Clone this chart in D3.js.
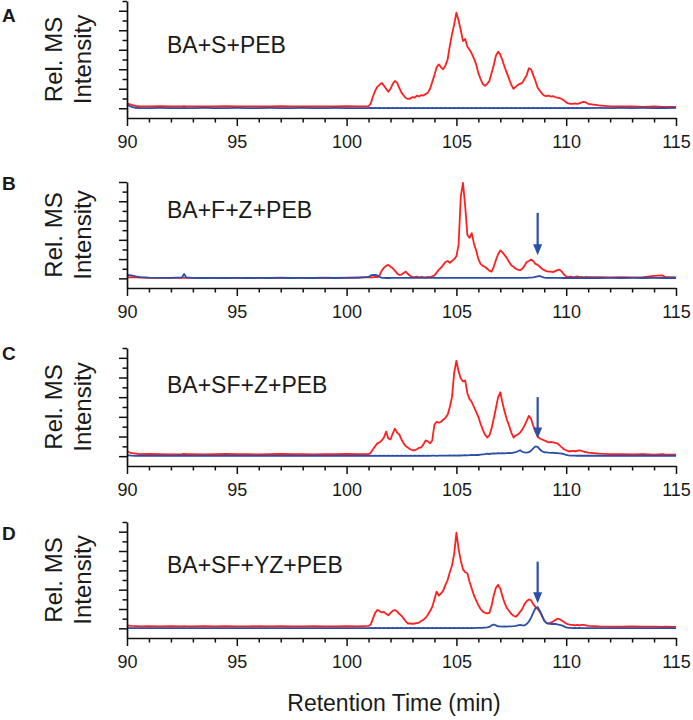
<!DOCTYPE html>
<html><head><meta charset="utf-8">
<script src="https://cdn.jsdelivr.net/npm/d3@7"></script>
<style>
body{margin:0;background:#fff}
svg{display:block}
text{font-family:"Liberation Sans",Arial,Helvetica,sans-serif;fill:#1a1a1a}
</style>
</head><body>
<svg id="chart" width="693" height="720"></svg>
<script>
// ---------- DATA ----------
const timesMin = [
  90, 90.2, 90.4, 90.6, 91, 91.5, 92, 92.5, 92.6, 92.7, 93, 93.5, 94, 94.5, 95, 95.5, 96, 96.5, 97, 97.5, 98, 98.5, 99, 99.5, 100, 100.5,
  101.0,101.1,101.2,101.3,101.4,101.5,101.6,101.7,101.8,101.9,
  102.0,102.1,102.2,102.3,102.4,102.5,102.6,102.7,102.8,102.9,
  103.0,103.1,103.2,103.3,103.4,103.5,103.6,103.7,103.8,103.9,
  104.0,104.1,104.2,104.3,104.4,104.5,104.6,104.7,104.8,104.9,
  105.0,105.1,105.2,105.3,105.4,105.5,105.6,105.7,105.8,105.9,
  106.0,106.1,106.2,106.3,106.4,106.5,106.6,106.7,106.8,106.9,
  107.0,107.1,107.2,107.3,107.4,107.5,107.6,107.7,107.8,107.9,
  108.0,108.1,108.2,108.3,108.4,108.5,108.6,108.7,108.8,108.9,
  109.0,109.1,109.2,109.3,109.4,109.5,109.6,109.7,109.8,109.9,
  110.0,110.1,110.2,110.3,110.4,110.5,110.6,110.7,110.8,110.9,
  111.0,
  111.5, 112, 112.5, 113, 113.5, 114, 114.4, 114.5, 115
];

const redA = [
  0.5,0.35,0.25,0.2,0.2,0.22,0.18,0.2,0.22,0.2,0.2,0.18,0.2,0.22,0.2,0.2,0.18,0.2,0.22,0.2,0.2,0.18,0.2,0.2,0.22,0.2,
  0.2,0.5,1.2,1.8,2.2,2.4,2.6,2.3,2.0,1.7,
  2.0,2.5,2.8,2.6,2.1,1.6,1.3,1.05,0.95,1.0,
  1.15,1.1,1.3,1.2,1.35,1.3,1.45,1.6,2.0,2.7,
  3.4,4.2,4.5,4.2,4.0,4.4,5.0,6.4,7.6,8.6,
  9.8,9.0,8.0,6.9,7.1,6.3,6.0,5.6,5.1,4.5,
  3.6,3.0,2.5,2.3,2.5,2.8,3.6,4.4,5.4,5.8,
  5.5,4.9,4.2,3.6,3.0,2.4,2.0,2.2,2.4,2.5,
  2.6,3.0,3.4,4.1,4.0,3.4,2.8,2.1,1.8,1.5,
  1.3,1.25,1.3,1.2,1.25,1.15,1.1,1.05,0.95,0.8,
  0.6,0.5,0.45,0.45,0.5,0.45,0.5,0.6,0.65,0.6,
  0.45,
  0.3,0.2,0.18,0.2,0.15,0.18,0.15,0.15,0.15
];
const blueA = [
  0.35,0.15,0.05,0.02,0.02,0.03,0.02,0.02,0.03,0.02,0.02,0.03,0.02,0.02,0.03,0.02,0.02,0.03,0.02,0.02,0.03,0.02,0.02,0.03,0.02,0.02,
  0.02,0.03,0.02,0.04,0.02,0.03,0.02,0.04,0.02,0.03,
  0.02,0.03,0.02,0.04,0.02,0.03,0.02,0.04,0.02,0.03,
  0.02,0.03,0.02,0.04,0.02,0.03,0.02,0.04,0.02,0.03,
  0.02,0.03,0.02,0.04,0.02,0.03,0.02,0.04,0.02,0.03,
  0.02,0.03,0.02,0.04,0.02,0.03,0.02,0.04,0.02,0.03,
  0.02,0.03,0.02,0.04,0.02,0.03,0.02,0.04,0.02,0.03,
  0.02,0.03,0.02,0.04,0.02,0.03,0.02,0.04,0.02,0.03,
  0.02,0.03,0.02,0.04,0.02,0.03,0.02,0.04,0.02,0.03,
  0.02,0.03,0.02,0.04,0.02,0.03,0.02,0.04,0.02,0.03,
  0.02,0.03,0.02,0.04,0.02,0.03,0.02,0.04,0.02,0.03,
  0.02,
  0.03,0.02,0.03,0.02,0.03,0.02,0.03,0.02,0.03
];

const redB = [
  0.1,0.12,0.1,0.08,0.05,0.06,0.05,0.06,0.05,0.06,0.05,0.06,0.05,0.06,0.05,0.06,0.05,0.06,0.08,0.06,0.05,0.06,0.08,0.06,0.08,0.1,
  0.1,0.12,0.1,0.15,0.12,0.3,0.8,1.1,1.3,1.4,
  1.2,1.05,0.8,0.5,0.35,0.4,0.55,0.7,0.45,0.25,
  0.15,0.12,0.18,0.1,0.15,0.12,0.1,0.15,0.12,0.2,
  0.3,0.6,0.9,1.1,1.4,1.7,1.8,1.6,1.8,2.0,
  2.3,3.5,8.5,9.9,7.5,4.5,4.2,4.7,3.6,2.9,
  2.0,1.5,1.3,1.2,1.0,0.8,0.7,1.2,1.9,2.5,
  2.9,2.7,2.4,2.1,1.7,1.35,1.2,1.0,0.9,0.85,
  1.0,1.3,1.7,1.8,1.95,1.8,1.5,1.4,1.2,1.0,
  0.85,0.75,0.7,0.7,0.65,0.75,0.85,0.9,0.7,0.4,
  0.2,0.15,0.18,0.12,0.15,0.2,0.12,0.15,0.1,0.15,
  0.12,
  0.12,0.1,0.12,0.1,0.12,0.25,0.3,0.15,0.1
];
const blueB = [
  0.35,0.3,0.2,0.12,0.08,0.06,0.05,0.1,0.45,0.1,0.05,0.04,0.05,0.04,0.05,0.04,0.05,0.04,0.05,0.04,0.05,0.04,0.05,0.04,0.05,0.06,
  0.15,0.3,0.35,0.35,0.3,0.15,0.06,0.05,0.04,0.05,
  0.04,0.06,0.04,0.06,0.04,0.06,0.04,0.06,0.04,0.06,
  0.04,0.06,0.04,0.06,0.04,0.06,0.04,0.06,0.04,0.06,
  0.04,0.06,0.04,0.06,0.04,0.06,0.04,0.06,0.04,0.06,
  0.04,0.06,0.04,0.06,0.04,0.06,0.04,0.06,0.04,0.06,
  0.04,0.06,0.04,0.06,0.04,0.06,0.04,0.06,0.04,0.06,
  0.04,0.06,0.04,0.06,0.04,0.06,0.04,0.06,0.04,0.06,
  0.05,0.06,0.05,0.07,0.08,0.1,0.15,0.2,0.25,0.15,
  0.08,0.06,0.05,0.06,0.04,0.06,0.04,0.06,0.04,0.05,
  0.04,0.05,0.04,0.05,0.04,0.05,0.04,0.05,0.04,0.05,
  0.04,
  0.04,0.05,0.04,0.05,0.04,0.05,0.04,0.05,0.04
];

const redC = [
  0.5,0.3,0.25,0.2,0.22,0.2,0.18,0.2,0.22,0.2,0.2,0.18,0.2,0.22,0.2,0.2,0.18,0.2,0.22,0.2,0.2,0.18,0.2,0.2,0.22,0.2,
  0.2,0.35,0.7,1.0,1.3,1.4,1.6,1.9,2.5,1.8,
  1.7,2.3,2.8,2.4,2.2,1.7,1.3,1.0,0.85,0.7,
  0.6,0.6,0.7,0.85,0.9,1.2,1.6,1.5,1.3,1.6,
  3.2,3.5,3.4,3.5,3.7,3.9,4.2,5.0,6.0,8.5,
  9.7,8.6,7.9,7.6,7.7,6.4,5.8,5.5,5.0,4.5,
  4.0,3.3,2.7,2.2,1.9,2.1,2.8,3.8,4.9,6.0,
  6.5,5.4,4.5,3.7,3.1,2.4,1.9,2.1,2.2,2.4,
  2.7,3.1,3.6,4.1,3.8,3.1,2.5,2.0,1.8,1.7,
  1.6,1.5,1.4,1.45,1.4,1.35,1.3,1.1,0.9,0.7,
  0.6,0.5,0.5,0.55,0.5,0.55,0.6,0.55,0.45,0.4,
  0.35,
  0.25,0.2,0.2,0.18,0.2,0.15,0.2,0.15,0.15
];
const blueC = [
  0.1,0.05,0.03,0.04,0.03,0.04,0.03,0.04,0.03,0.04,0.03,0.04,0.03,0.04,0.03,0.04,0.03,0.04,0.03,0.04,0.03,0.04,0.03,0.04,0.03,0.04,
  0.03,0.05,0.03,0.05,0.03,0.05,0.03,0.05,0.03,0.05,
  0.03,0.05,0.03,0.05,0.03,0.05,0.03,0.05,0.03,0.05,
  0.03,0.05,0.03,0.05,0.03,0.05,0.03,0.05,0.03,0.05,
  0.05,0.03,0.05,0.06,0.05,0.06,0.05,0.07,0.06,0.08,
  0.06,0.08,0.07,0.08,0.1,0.08,0.1,0.12,0.1,0.12,
  0.12,0.15,0.18,0.2,0.25,0.22,0.25,0.28,0.25,0.3,
  0.28,0.3,0.28,0.3,0.32,0.3,0.35,0.4,0.5,0.6,
  0.45,0.38,0.35,0.4,0.55,0.8,1.0,0.95,0.7,0.5,
  0.4,0.38,0.35,0.33,0.35,0.32,0.3,0.28,0.25,0.2,
  0.12,0.08,0.06,0.05,0.05,0.04,0.05,0.04,0.05,0.04,
  0.04,
  0.04,0.03,0.04,0.03,0.04,0.03,0.04,0.03,0.04
];

const redD = [
  0.3,0.25,0.22,0.2,0.22,0.2,0.22,0.2,0.22,0.2,0.2,0.22,0.2,0.22,0.2,0.2,0.22,0.2,0.22,0.2,0.2,0.22,0.2,0.2,0.22,0.2,
  0.25,0.4,1.0,1.6,1.9,1.8,1.65,1.7,1.5,1.35,
  1.6,1.8,1.9,1.75,1.5,1.3,1.0,0.7,0.5,0.5,
  0.45,0.5,0.55,0.6,0.75,0.9,1.1,1.4,1.8,2.2,
  3.0,3.8,3.4,3.6,3.9,4.5,5.0,5.8,6.5,7.7,
  9.9,8.2,7.0,6.1,5.8,5.7,4.8,4.1,3.4,2.9,
  2.4,2.0,1.75,1.6,1.55,1.6,2.3,3.4,4.2,4.5,
  4.1,3.3,2.6,2.1,1.8,1.5,1.3,1.2,1.4,1.7,
  2.0,2.5,2.8,3.0,2.9,2.5,2.2,2.0,1.7,1.3,
  0.8,0.55,0.5,0.6,0.7,0.85,1.0,0.95,0.8,0.65,
  0.5,0.4,0.35,0.35,0.3,0.35,0.3,0.35,0.35,0.3,
  0.25,
  0.2,0.18,0.17,0.2,0.17,0.18,0.15,0.17,0.15
];
const blueD = [
  0.04,0.03,0.02,0.03,0.02,0.03,0.02,0.03,0.02,0.03,0.02,0.03,0.02,0.03,0.02,0.03,0.02,0.03,0.02,0.03,0.02,0.03,0.02,0.03,0.02,0.03,
  0.02,0.04,0.02,0.04,0.02,0.04,0.02,0.04,0.02,0.04,
  0.02,0.04,0.02,0.04,0.02,0.04,0.02,0.04,0.02,0.04,
  0.02,0.04,0.02,0.04,0.02,0.04,0.02,0.04,0.02,0.04,
  0.02,0.04,0.02,0.04,0.02,0.04,0.02,0.04,0.02,0.04,
  0.03,0.04,0.03,0.04,0.03,0.04,0.03,0.04,0.03,0.04,
  0.04,0.05,0.06,0.08,0.1,0.15,0.3,0.4,0.3,0.2,
  0.2,0.18,0.2,0.18,0.2,0.2,0.22,0.25,0.3,0.35,
  0.3,0.3,0.45,0.7,1.1,1.6,2.1,2.2,1.8,1.3,
  0.8,0.55,0.5,0.45,0.45,0.45,0.4,0.35,0.3,0.2,
  0.1,0.05,0.04,0.03,0.04,0.03,0.04,0.03,0.03,0.03,
  0.03,
  0.03,0.02,0.03,0.02,0.03,0.02,0.03,0.02,0.03
];

const panelLetters = ["A", "B", "C", "D"];
const sampleLabels = ["BA+S+PEB", "BA+F+Z+PEB", "BA+SF+Z+PEB", "BA+SF+YZ+PEB"];
const redSeries = [redA, redB, redC, redD];
const blueSeries = [blueA, blueB, blueC, blueD];
const yMaxTicks = [11, 10, 11, 11];
const arrowTime = 108.7;                       // min
const arrowFromTo = [null, [6.8, 2.4], [6.0, 1.8], [6.9, 2.6]]; // intensity units
const xMajorTicks = [90, 95, 100, 105, 110, 115];
const xMinorTicks = [91,92,93,94,96,97,98,99,101,102,103,104,106,107,108,109,111,112,113,114];
const xTitle = "Retention Time (min)";
const yTitle = ["Rel. MS", "Intensity"];

// ---------- LAYOUT ----------
const RED = "#ff1f1f", BLUE = "#2b4ea6";
const layout = [
  {top: 1,   bottom: 118, letterY: 22,  labelY: 53},
  {top: 182, bottom: 288, letterY: 190, labelY: 218},
  {top: 348, bottom: 466, letterY: 360, labelY: 393},
  {top: 522, bottom: 638, letterY: 540, labelY: 573}
];
const svg = d3.select("#chart");
const x = d3.scaleLinear().domain([90, 115]).range([127, 676]);

panelLetters.forEach((letter, i) => {
  const L = layout[i];
  const y = d3.scaleLinear().domain([-1, yMaxTicks[i]]).range([L.bottom, L.top]);
  const g = svg.append("g");

  const pts = s => timesMin.map((t, k) => [t, s[k]]);
  const line = d3.line().x(d => x(d[0])).y(d => y(d[1]));
  g.append("path").datum(pts(redSeries[i])).attr("d", line)
    .attr("fill", "none").attr("stroke", RED).attr("stroke-width", 1.8).attr("stroke-linejoin", "round");
  g.append("path").datum(pts(blueSeries[i])).attr("d", line)
    .attr("fill", "none").attr("stroke", BLUE).attr("stroke-width", 1.8).attr("stroke-linejoin", "round");

  const yEven = d3.range(0, yMaxTicks[i] + 1).filter(v => v % 2 === 0);
  const yOdd = d3.range(0, yMaxTicks[i] + 1).filter(v => v % 2 === 1);
  g.append("g").attr("transform", `translate(${x(90)},0)`)
    .call(d3.axisLeft(y).tickValues(yEven).tickSize(8).tickSizeOuter(0).tickFormat(""));
  const yMinor = g.append("g").attr("transform", `translate(${x(90)},0)`)
    .call(d3.axisLeft(y).tickValues(yOdd).tickSize(4.5).tickSizeOuter(0).tickFormat(""));
  yMinor.select(".domain").remove();

  const xMajor = g.append("g").attr("transform", `translate(0,${L.bottom})`)
    .call(d3.axisBottom(x).tickValues(xMajorTicks).tickSize(8).tickSizeOuter(0).tickPadding(9).tickFormat(d3.format("d")));
  const xMinor = g.append("g").attr("transform", `translate(0,${L.bottom})`)
    .call(d3.axisBottom(x).tickValues(xMinorTicks).tickSize(4.5).tickSizeOuter(0).tickFormat(""));
  xMinor.select(".domain").remove();
  xMajor.selectAll("text").attr("font-size", 18).attr("font-family", "Liberation Sans, Arial, sans-serif").attr("fill", "#1a1a1a");
  g.selectAll(".domain").attr("stroke", "#111").attr("stroke-width", 1.7);
  g.selectAll(".tick line").attr("stroke", "#111").attr("stroke-width", 1.5);

  svg.append("text").attr("x", 2).attr("y", L.letterY).attr("font-size", 19).attr("font-weight", "bold").text(letter);
  svg.append("text").attr("x", 167).attr("y", L.labelY).attr("font-size", 23).text(sampleLabels[i]);
  const cy = (L.top + L.bottom) / 2;
  svg.append("text").attr("transform", `translate(62,${cy}) rotate(-90)`).attr("text-anchor", "middle")
    .attr("font-size", 24).text(yTitle[0]);
  svg.append("text").attr("transform", `translate(91,${cy}) rotate(-90)`).attr("text-anchor", "middle")
    .attr("font-size", 24).text(yTitle[1]);

  const a = arrowFromTo[i];
  if (a) {
    const ax = x(arrowTime), y0 = y(a[0]), y1 = y(a[1]);
    g.append("line").attr("x1", ax).attr("x2", ax).attr("y1", y0).attr("y2", y1 - 9)
      .attr("stroke", BLUE).attr("stroke-width", 2.2);
    g.append("path").attr("d", `M${ax - 4.5},${y1 - 11} L${ax + 4.5},${y1 - 11} L${ax},${y1} Z`).attr("fill", BLUE);
  }
});

svg.append("text").attr("x", 394).attr("y", 711).attr("text-anchor", "middle").attr("font-size", 23).text(xTitle);
</script>
</body></html>
